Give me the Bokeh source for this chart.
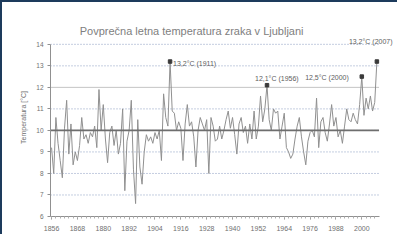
from bokeh.plotting import figure
from bokeh.models import Range1d, FixedTicker, ColumnDataSource, LabelSet, Label, InlineStyleSheet
from bokeh.core.properties import value
from bokeh.embed import file_html
from bokeh.resources import INLINE

years = list(range(1856, 2008))
temps = [
    9.2, 8.0, 10.6, 9.4, 8.6, 7.8, 10.1, 11.4, 8.9, 10.3,   # 1856-1865
    8.4, 9.0, 8.6, 9.3, 10.6, 9.6, 9.8, 9.4, 9.9, 9.7,      # 1866-1875
    10.2, 9.2, 11.9, 10.0, 11.2, 9.6, 8.5, 9.9, 10.2, 9.3,  # 1876-1885
    10.0, 8.9, 9.4, 11.0, 7.2, 9.5, 10.0, 11.4, 8.2, 6.6,   # 1886-1895
    10.5, 8.3, 7.5, 9.0, 9.8, 9.5, 9.7, 9.4, 9.9, 9.6,      # 1896-1905
    10.0, 8.6, 11.7, 10.6, 10.2, 13.2, 10.9, 10.8, 10.0, 10.4,  # 1906-1915
    10.1, 8.6, 10.3, 11.2, 10.2, 10.4, 9.7, 8.3, 10.0, 10.6,    # 1916-1925
    10.3, 10.0, 10.5, 8.0, 10.6, 10.2, 9.5, 9.6, 10.2, 9.6,     # 1926-1935
    10.0, 10.5, 10.9, 10.1, 10.6, 9.8, 8.9, 10.3, 10.6, 9.9,    # 1936-1945
    10.2, 9.4, 10.3, 9.6, 10.9, 9.6, 10.2, 11.6, 10.4, 11.0,    # 1946-1955
    12.1, 10.5, 10.0, 11.0, 10.8, 10.9, 9.6, 10.2, 10.8, 9.2,   # 1956-1965
    9.0, 8.7, 8.9, 9.6, 10.2, 10.6, 9.7, 9.0, 8.4, 9.5,         # 1966-1975
    9.9, 10.0, 9.7, 11.5, 9.2, 10.4, 10.6, 9.9, 9.5, 10.3,      # 1976-1985
    11.2, 10.2, 10.6, 9.7, 10.0, 9.4, 10.2, 11.0, 10.5, 10.4,   # 1986-1995
    10.8, 10.5, 10.3, 11.2, 12.5, 10.7, 11.5, 11.0, 11.6, 10.9, # 1996-2005
    11.3, 13.2,                                                 # 2006-2007
]
mean_temp = 10.0
tick_years = list(range(1856, 2008, 12))
y_ticks = [6, 7, 8, 9, 10, 11, 12, 13, 14]
peak_years = [1911, 1956, 2000, 2007]

title_text = "Povprečna letna temperatura zraka v Ljubljani"
y_label = "Temperatura [°C]"

FONT = "Liberation Sans"

X0, X1 = 1855.5, 2008.0      # plotted span of the axis
Y0, Y1 = 6, 14

p = figure(width=397, height=234, output_backend="svg", toolbar_location=None,
           x_range=Range1d(X0, 2017.5), y_range=Range1d(Y0, 15.2),
           min_border_left=48, min_border_right=0, min_border_top=16, min_border_bottom=20)
p.stylesheets = [InlineStyleSheet(css=":host { border-top: 2px solid #1d3b5c !important; border-left: 2px solid #1d3b5c !important; }")]
p.outline_line_color = None
p.background_fill_color = "white"
p.border_fill_color = "white"

p.xaxis.ticker = FixedTicker(ticks=tick_years, minor_ticks=years[::2])
p.yaxis.ticker = FixedTicker(ticks=y_ticks)
p.xaxis.bounds = (X0, X1)
p.yaxis.bounds = (Y0, Y1)
for ax in (p.xaxis, p.yaxis):
    ax.axis_line_color = "#909090"
    ax.major_tick_line_color = "#909090"
    ax.minor_tick_line_color = "#b0b0b0"
    ax.major_label_text_font = FONT
    ax.major_label_text_color = "#707070"
    ax.major_tick_out = 3
    ax.major_tick_in = 0
    ax.minor_tick_out = 2
    ax.minor_tick_in = 0
p.xaxis.major_label_text_font_size = "7px"
p.yaxis.major_label_text_font_size = "6.5px"
p.yaxis.major_label_standoff = 4
p.xaxis.major_label_standoff = 6
p.yaxis.minor_tick_line_color = None
p.yaxis.axis_label = y_label
p.yaxis.axis_label_text_font = FONT
p.yaxis.axis_label_text_font_size = "7px"
p.yaxis.axis_label_text_font_style = "normal"
p.yaxis.axis_label_text_color = "#707070"
p.yaxis.axis_label_standoff = 6

p.grid.grid_line_color = None

# horizontal grid lines limited to the axis span
grid_y = [t for t in y_ticks if t not in (Y0, 12)]
p.segment(x0=[X0] * len(grid_y), x1=[X1] * len(grid_y), y0=grid_y, y1=grid_y,
          line_color="#8a9cc0", line_dash="1 2", line_width=1)
p.segment(x0=[X0], x1=[X1], y0=[12], y1=[12], line_color="#c4c4c4", line_width=1)

p.line(years, temps, line_color="#909090", line_width=1)
p.line([X0, X1], [mean_temp, mean_temp], line_color="#6e6e6e", line_width=1.6)

peak_vals = [temps[years.index(y)] for y in peak_years]
p.scatter(peak_years, peak_vals, marker="square", size=3.5, color="#3a3a3a")

ann = ColumnDataSource(dict(
    x=peak_years, y=peak_vals,
    text=[f"{v:.1f}°C ({yr})".replace(".", ",") for v, yr in zip(peak_vals, peak_years)],
    xo=[3, -12, -13, -28], yo=[-2, 7, -1, 20],
    align=["left", "left", "right", "left"],
))
labels = LabelSet(x="x", y="y", text="text", source=ann, x_offset="xo", y_offset="yo",
                  text_align="align", text_baseline="middle",
                  text_font=value(FONT), text_font_size="7px", text_color="#606060")
p.add_layout(labels)

p.add_layout(Label(x=1921.0, y=14.62, text=title_text, text_align="center", text_baseline="middle",
                   text_font=FONT, text_font_size="11px", text_color="#808080"))

open("out.html", "w").write(file_html(p, INLINE))
